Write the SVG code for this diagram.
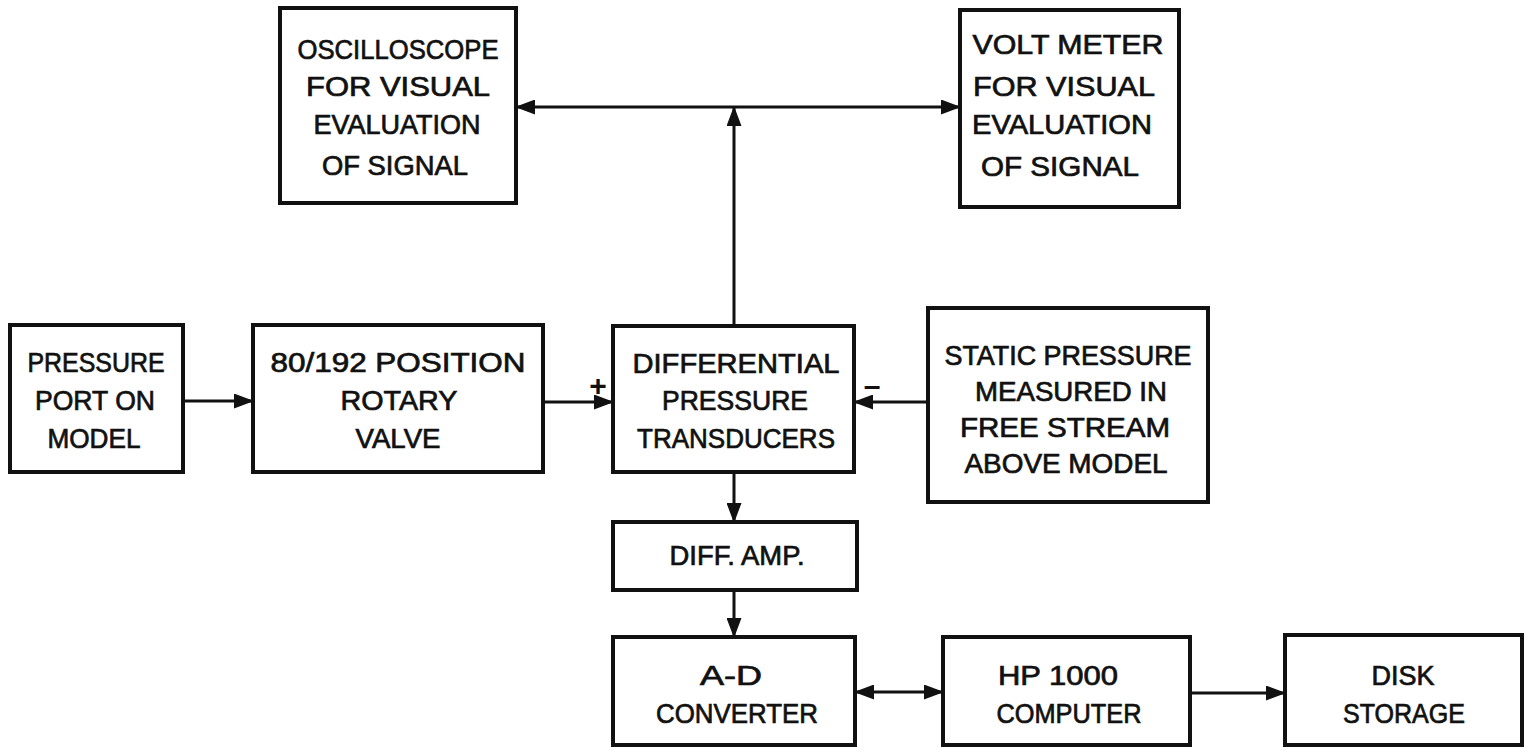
<svg xmlns="http://www.w3.org/2000/svg" width="1525" height="749" viewBox="0 0 1525 749">
<style>
  .box { fill: #fff; stroke: #111; stroke-width: 4; }
  .lbl { font-family: "Liberation Sans", Arial, sans-serif; font-size: 27px; fill: #111; stroke: #111; stroke-width: 0.7; text-anchor: middle; }
  .sign { font-family: "Liberation Sans", Arial, sans-serif; font-size: 30px; font-weight: bold; fill: #111; text-anchor: middle; }
  .wire { fill: none; stroke: #111; stroke-width: 3; }
</style>
<defs>
  <marker id="ah" markerUnits="userSpaceOnUse" markerWidth="20" markerHeight="15" refX="19" refY="7.5" orient="auto-start-reverse">
    <path d="M0,0 L20,7.5 L0,15 Z" fill="#111"/>
  </marker>
</defs>
<rect x="0" y="0" width="1525" height="749" fill="#fff"/>

<g id="connectors">
  <line class="wire" x1="183" y1="401" x2="253" y2="401" marker-end="url(#ah)"/>
  <line class="wire" x1="543" y1="402" x2="613" y2="402" marker-end="url(#ah)"/>
  <line class="wire" x1="928" y1="402" x2="854" y2="402" marker-end="url(#ah)"/>
  <line class="wire" x1="734" y1="326" x2="734" y2="107" marker-end="url(#ah)"/>
  <line class="wire" x1="516" y1="107" x2="960" y2="107" marker-start="url(#ah)" marker-end="url(#ah)"/>
  <line class="wire" x1="734" y1="472" x2="734" y2="522" marker-end="url(#ah)"/>
  <line class="wire" x1="734" y1="590" x2="734" y2="637" marker-end="url(#ah)"/>
  <line class="wire" x1="855" y1="692" x2="943" y2="692" marker-start="url(#ah)" marker-end="url(#ah)"/>
  <line class="wire" x1="1190" y1="693" x2="1285" y2="693" marker-end="url(#ah)"/>
  <text class="sign" x="598" y="396">+</text>
  <text class="sign" x="872" y="396">–</text>
</g>

<g id="oscilloscope">
  <rect class="box" x="280" y="8" width="236" height="195"/>
  <text class="lbl" x="398" y="59" textLength="201" lengthAdjust="spacingAndGlyphs">OSCILLOSCOPE</text>
  <text class="lbl" x="398" y="96" textLength="184" lengthAdjust="spacingAndGlyphs">FOR VISUAL</text>
  <text class="lbl" x="397" y="134" textLength="167" lengthAdjust="spacingAndGlyphs">EVALUATION</text>
  <text class="lbl" x="395" y="175" textLength="146" lengthAdjust="spacingAndGlyphs">OF SIGNAL</text>
</g>

<g id="voltmeter">
  <rect class="box" x="960" y="10" width="219" height="197"/>
  <text class="lbl" x="1068" y="54" textLength="191" lengthAdjust="spacingAndGlyphs">VOLT METER</text>
  <text class="lbl" x="1064" y="96" textLength="182" lengthAdjust="spacingAndGlyphs">FOR VISUAL</text>
  <text class="lbl" x="1062" y="134" textLength="180" lengthAdjust="spacingAndGlyphs">EVALUATION</text>
  <text class="lbl" x="1060" y="176" textLength="158" lengthAdjust="spacingAndGlyphs">OF SIGNAL</text>
</g>

<g id="pressureport">
  <rect class="box" x="10" y="325" width="173" height="147"/>
  <text class="lbl" x="96" y="372" textLength="137" lengthAdjust="spacingAndGlyphs">PRESSURE</text>
  <text class="lbl" x="95" y="410" textLength="120" lengthAdjust="spacingAndGlyphs">PORT ON</text>
  <text class="lbl" x="94" y="448" textLength="93" lengthAdjust="spacingAndGlyphs">MODEL</text>
</g>

<g id="rotaryvalve">
  <rect class="box" x="253" y="325" width="290" height="147"/>
  <text class="lbl" x="398" y="372" textLength="255" lengthAdjust="spacingAndGlyphs">80/192 POSITION</text>
  <text class="lbl" x="399" y="410" textLength="117" lengthAdjust="spacingAndGlyphs">ROTARY</text>
  <text class="lbl" x="398" y="448" textLength="85" lengthAdjust="spacingAndGlyphs">VALVE</text>
</g>

<g id="transducers">
  <rect class="box" x="613" y="326" width="241" height="146"/>
  <text class="lbl" x="736" y="373" textLength="207" lengthAdjust="spacingAndGlyphs">DIFFERENTIAL</text>
  <text class="lbl" x="735" y="410" textLength="146" lengthAdjust="spacingAndGlyphs">PRESSURE</text>
  <text class="lbl" x="736" y="448" textLength="198" lengthAdjust="spacingAndGlyphs">TRANSDUCERS</text>
</g>

<g id="staticpressure">
  <rect class="box" x="928" y="308" width="280" height="194"/>
  <text class="lbl" x="1068" y="365" textLength="247" lengthAdjust="spacingAndGlyphs">STATIC PRESSURE</text>
  <text class="lbl" x="1071" y="401" textLength="192" lengthAdjust="spacingAndGlyphs">MEASURED IN</text>
  <text class="lbl" x="1065" y="437" textLength="210" lengthAdjust="spacingAndGlyphs">FREE STREAM</text>
  <text class="lbl" x="1066" y="473" textLength="203" lengthAdjust="spacingAndGlyphs">ABOVE MODEL</text>
</g>

<g id="diffamp">
  <rect class="box" x="613" y="522" width="244" height="68"/>
  <text class="lbl" x="737" y="565" textLength="135" lengthAdjust="spacingAndGlyphs">DIFF. AMP.</text>
</g>

<g id="adconverter">
  <rect class="box" x="613" y="637" width="242" height="108"/>
  <text class="lbl" x="731" y="685" textLength="62" lengthAdjust="spacingAndGlyphs">A-D</text>
  <text class="lbl" x="737" y="723" textLength="162" lengthAdjust="spacingAndGlyphs">CONVERTER</text>
</g>

<g id="hp1000">
  <rect class="box" x="943" y="637" width="247" height="108"/>
  <text class="lbl" x="1058" y="685" textLength="120" lengthAdjust="spacingAndGlyphs">HP 1000</text>
  <text class="lbl" x="1069" y="723" textLength="145" lengthAdjust="spacingAndGlyphs">COMPUTER</text>
</g>

<g id="disk">
  <rect class="box" x="1285" y="635" width="237" height="110"/>
  <text class="lbl" x="1403" y="685" textLength="63" lengthAdjust="spacingAndGlyphs">DISK</text>
  <text class="lbl" x="1404" y="723" textLength="122" lengthAdjust="spacingAndGlyphs">STORAGE</text>
</g>
</svg>
